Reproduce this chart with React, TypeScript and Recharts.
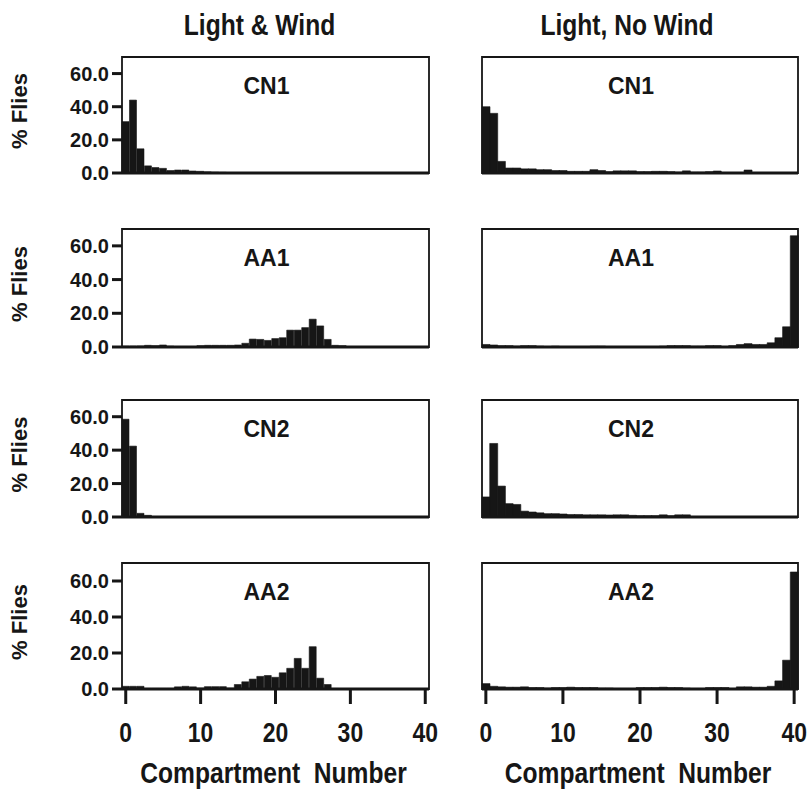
import React from 'react';
import { BarChart, Bar, XAxis, YAxis, ReferenceArea, Label } from 'recharts';

// ---------- DATA ----------
const compartments: number[] = [
  0, 1, 2, 3, 4, 5, 6, 7, 8, 9, 10, 11, 12, 13, 14, 15, 16, 17, 18, 19, 20,
  21, 22, 23, 24, 25, 26, 27, 28, 29, 30, 31, 32, 33, 34, 35, 36, 37, 38, 39, 40,
];
const yTicks = [0, 20, 40, 60];
const columnTitles = ['Light & Wind', 'Light, No Wind'];
const panelTitles = ['CN1', 'AA1', 'CN2', 'AA2'];
const yLabel = '% Flies';
const xLabel = 'Compartment  Number';

// Light & Wind (% flies per compartment 0..40)
const windCN1 = [31, 44, 14.6, 4.3, 3.3, 2.8, 1.5, 1.8, 1.8, 1.2, 1, 0.7, 0.5, 0.4, 0.3, 0.2, 0.2, 0.1, 0.1, 0.1, 0.1,
  0, 0, 0, 0, 0, 0, 0, 0, 0, 0, 0, 0, 0, 0, 0, 0, 0, 0, 0, 0];
const windAA1 = [0.5, 0.5, 0.6, 1, 0.8, 1.2, 0.5, 0.3, 0.3, 0.3, 0.8, 1, 1, 1, 1, 1.2, 2.2, 4.7, 4.5, 3.9, 5,
  5.5, 10, 10, 11.5, 16.5, 12.5, 4.5, 1, 0.8, 0.2, 0, 0, 0, 0, 0, 0, 0, 0, 0, 0];
const windCN2 = [58.5, 42.4, 2.2, 1, 0.3, 0.1, 0, 0, 0, 0, 0, 0, 0, 0, 0, 0, 0, 0, 0, 0, 0,
  0, 0, 0, 0, 0, 0, 0, 0, 0, 0, 0, 0, 0, 0, 0, 0, 0, 0, 0, 0];
const windAA2 = [1.5, 1.5, 1.5, 0.3, 0.3, 0.3, 0.3, 1.2, 1.5, 1.2, 0.5, 1.3, 1.3, 1.3, 0.5, 2.5, 4, 5.5, 7, 7.5, 6.5,
  9, 11.5, 17, 11.5, 23.5, 6, 2.5, 0.3, 0, 0, 0, 0, 0, 0, 0, 0, 0, 0, 0, 0];

// Light, No Wind
const noWindCN1 = [40, 36, 7, 3, 3, 2.5, 2.5, 2, 2, 1.5, 1.5, 1, 1, 1, 2, 1.5, 0.8, 1.3, 1.3, 1.3, 0.8,
  0.8, 1, 1, 0.8, 0.5, 1.3, 0.5, 0.5, 0.8, 1.2, 0.3, 0.3, 0.3, 1.8, 0, 0, 0, 0, 0, 0];
const noWindAA1 = [1.5, 1.2, 0.8, 0.8, 0.5, 0.8, 0.8, 0.5, 0.3, 0.5, 0.3, 0.3, 0.3, 0.3, 0.5, 0.5, 0.3, 0.3, 0.3, 0.3, 0.3,
  0.3, 0.3, 0.5, 0.8, 0.8, 0.8, 0.5, 0.5, 0.8, 0.8, 0.3, 0.8, 1.5, 2, 1.5, 1.5, 2.5, 5.5, 12, 66];
const noWindCN2 = [12, 44, 18.5, 8, 7.5, 3.5, 3, 2.5, 2, 2, 1.8, 1.5, 1.5, 1.3, 1.3, 1.3, 1.2, 1.3, 1.3, 1, 0.8,
  0.8, 0.8, 1.3, 0.8, 1.3, 1.3, 0.3, 0, 0, 0, 0, 0, 0, 0, 0, 0, 0, 0, 0, 0];
const noWindAA2 = [3, 1.5, 1.2, 1, 1, 1.2, 0.8, 0.8, 0.5, 0.8, 0.8, 1, 0.8, 0.8, 0.8, 0.5, 0.5, 0.3, 0.3, 0.3, 0.8,
  0.8, 0.8, 1, 0.8, 0.8, 0.5, 0.3, 0.3, 0.8, 0.8, 0.8, 0.3, 1.2, 1.2, 1, 1, 1.5, 4.5, 16, 65];

const seriesGrid: number[][][] = [
  [windCN1, windAA1, windCN2, windAA2],
  [noWindCN1, noWindAA1, noWindCN2, noWindAA2],
];

// ---------- LAYOUT ----------
const FONT = "'Liberation Sans', Arial, Helvetica, sans-serif";
const INK = '#161616';
const NARROW_SCALE = 0.82;

const COLS = [
  { left: 0, width: 440, yAxisW: 122, right: 11, titleDx: -16 },
  { left: 440, width: 372, yAxisW: 42, right: 14, titleDx: -13 },
];
const ROWS = [
  { top: 57, base: 173 },
  { top: 229, base: 347 },
  { top: 400, base: 517 },
  { top: 563, base: 689 },
];

function NarrowText({ x, y, size, children, anchor = 'middle', dy = 0 }: any) {
  return (
    <g transform={`translate(${x}, ${y}) scale(${NARROW_SCALE}, 1)`}>
      <text
        x={0}
        y={0}
        dy={dy}
        textAnchor={anchor}
        fill={INK}
        fontSize={size}
        fontWeight={700}
        fontFamily={FONT}
        style={{ whiteSpace: 'pre' }}
      >
        {children}
      </text>
    </g>
  );
}

function XTick(props: any) {
  const { x, y, payload } = props;
  return (
    <NarrowText x={x} y={y} size={28} dy={21}>
      {String(payload.value)}
    </NarrowText>
  );
}

function Panel({ col, row }: { col: number; row: number }) {
  const c = COLS[col];
  const r = ROWS[row];
  const values = seriesGrid[col][row];
  const data = compartments.map((x, i) => ({ c: x, v: values[i] }));
  const isBottom = row === ROWS.length - 1;
  const padTop = row === 0 ? r.top : 10;
  const xAxisH = isBottom ? 792 - r.base : 22;
  const plotH = r.base - r.top;
  const height = padTop + plotH + xAxisH;
  const chartTop = r.top - padTop;

  return (
    <div style={{ position: 'absolute', left: c.left, top: chartTop }}>
      <BarChart
        width={c.width}
        height={height}
        data={data}
        margin={{ top: padTop, right: c.right, bottom: 0, left: 0 }}
        barCategoryGap={0}
        barGap={0}
      >
        <XAxis
          dataKey="c"
          type="category"
          interval={9}
          height={xAxisH}
          tickSize={15}
          tickMargin={isBottom ? 17 : 0}
          axisLine={{ stroke: INK, strokeWidth: 3 }}
          tickLine={{ stroke: INK, strokeWidth: 3 }}
          tick={isBottom ? <XTick /> : false}
          label={
            isBottom
              ? {
                  content: ({ viewBox }: any) => (
                    <NarrowText x={viewBox.x + viewBox.width / 2 - 2} y={783 - chartTop} size={30}>
                      {xLabel}
                    </NarrowText>
                  ),
                }
              : undefined
          }
        />
        <YAxis
          type="number"
          domain={[0, 70]}
          ticks={yTicks}
          width={c.yAxisW}
          tickSize={10}
          tickMargin={3}
          axisLine={false}
          tickLine={{ stroke: INK, strokeWidth: 3 }}
          tick={col === 0 ? { fill: INK, fontSize: 20, fontWeight: 700, fontFamily: FONT } : false}
          tickFormatter={(v: number) => v.toFixed(1)}
          label={
            col === 0
              ? {
                  content: ({ viewBox }: any) => {
                    const cy = viewBox.y + viewBox.height / 2 - 4;
                    return (
                      <text
                        x={19}
                        y={cy}
                        transform={`rotate(-90, 19, ${cy})`}
                        textAnchor="middle"
                        dominantBaseline="central"
                        fill={INK}
                        fontSize={22}
                        fontWeight={700}
                        fontFamily={FONT}
                      >
                        {yLabel}
                      </text>
                    );
                  },
                }
              : undefined
          }
        />
        <Bar dataKey="v" fill={INK} stroke={INK} strokeWidth={0.6} isAnimationActive={false} />
        <ReferenceArea
          x1={0}
          x2={40}
          y1={0}
          y2={70}
          ifOverflow="visible"
          fill="none"
          fillOpacity={0}
          stroke={INK}
          strokeWidth={1.8}
        >
          <Label
            value={panelTitles[row]}
            position="insideTop"
            offset={21}
            dx={-9}
            fill={INK}
            fontSize={23}
            fontWeight={700}
            fontFamily={FONT}
          />
          {row === 0 ? (
            <Label
              content={({ viewBox }: any) => (
                <NarrowText x={viewBox.x + viewBox.width / 2 + c.titleDx} y={35} size={30}>
                  {columnTitles[col]}
                </NarrowText>
              )}
            />
          ) : null}
        </ReferenceArea>
      </BarChart>
    </div>
  );
}

export default function App() {
  const panels: React.ReactNode[] = [];
  for (let col = 0; col < 2; col++) {
    for (let row = 0; row < 4; row++) {
      panels.push(<Panel key={`${col}-${row}`} col={col} row={row} />);
    }
  }
  return (
    <div
      style={{
        position: 'absolute',
        left: 0,
        top: 0,
        width: 812,
        height: 792,
        background: '#fff',
        overflow: 'hidden',
      }}
    >
      {panels}
    </div>
  );
}
